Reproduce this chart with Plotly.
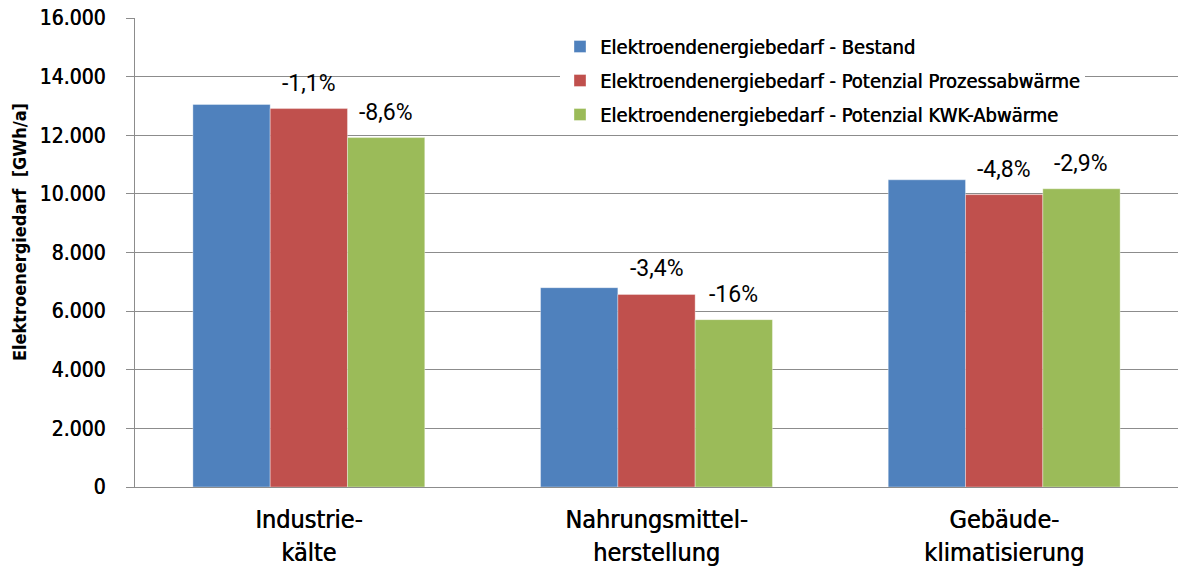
import plotly.graph_objects as go

categories = ["Industrie-<br>kälte", "Nahrungsmittel-<br>herstellung", "Gebäude-<br>klimatisierung"]
series_names = [
    "Elektroendenergiebedarf - Bestand",
    "Elektroendenergiebedarf - Potenzial Prozessabwärme",
    "Elektroendenergiebedarf - Potenzial KWK-Abwärme",
]
bestand = [13050, 6800, 10480]
prozess = [12910, 6570, 9975]
kwk = [11920, 5710, 10175]
prozess_labels = ["-1,1%", "-3,4%", "-4,8%"]
kwk_labels = ["-8,6%", "-16%", "-2,9%"]
tick_vals = [0, 2000, 4000, 6000, 8000, 10000, 12000, 14000, 16000]
tick_text = ["0", "2.000", "4.000", "6.000", "8.000", "10.000", "12.000", "14.000", "16.000"]

colors = ["#4F81BD", "#C0504D", "#9BBB59"]
FONT = "DejaVu Sans Condensed"
SHADOW = "0.5px 0 0 #000000"
W, H = 1178, 570
ML, MR, MT, MB = 135, 0, 18, 83
BARGAP = 0.333

fig = go.Figure()
for i, (name, vals) in enumerate(zip(series_names, [bestand, prozess, kwk])):
    fig.add_trace(go.Bar(
        x=categories, y=vals, name=name,
        marker=dict(color=colors[i], line=dict(color="rgba(255,255,255,0.6)", width=0.6)),
        legendgroup=f"g{i}",
        hoverinfo="skip",
    ))

plot_w = W - ML - MR
plot_h = H - MT - MB
def px_x(page_x):
    return (page_x - ML) / plot_w
def px_y(page_y):
    return (MT + plot_h - page_y) / plot_h

bar_px = plot_w / len(categories) * (1 - BARGAP) / 3
annotations = []
for labels, vals, shift in [(prozess_labels, prozess, 0), (kwk_labels, kwk, bar_px)]:
    for c, v, t in zip(categories, vals, labels):
        annotations.append(dict(
            x=c, y=v, text=t, showarrow=False, xref="x", yref="y",
            xshift=shift, yanchor="bottom", yshift=10,
            font=dict(family="Roboto", size=23, color="#000000"),
        ))
annotations.append(dict(
    x=px_x(20), y=px_y(232), xref="paper", yref="paper",
    text="Elektroenergiedarf  [GWh/a]", textangle=-90, showarrow=False,
    font=dict(family=FONT, size=18, color="#000000", weight="bold"),
    xanchor="center", yanchor="middle",
))

fig.update_layout(
    width=W, height=H,
    margin=dict(l=ML, r=MR, t=MT, b=MB, pad=0),
    paper_bgcolor="white", plot_bgcolor="white",
    barmode="group", bargap=BARGAP, bargroupgap=0,
    font=dict(family=FONT, size=20, color="#000000"),
    showlegend=True,
    legend=dict(
        x=px_x(560), y=px_y(27),
        xanchor="left", yanchor="top",
        bgcolor="white", borderwidth=0,
        font=dict(family=FONT, size=20, color="#000000", shadow=SHADOW),
        traceorder="grouped", tracegroupgap=5,
        itemwidth=30,
    ),
    annotations=annotations,
)
fig.update_yaxes(
    range=[0, 16000], tickvals=tick_vals, ticktext=tick_text,
    showgrid=True, gridcolor="#8C8C8C", gridwidth=1.3,
    showline=True, linecolor="#8C8C8C", linewidth=1.3,
    ticks="outside", ticklen=8, tickcolor="#8C8C8C", tickwidth=1.3,
    ticklabelstandoff=16,
    tickfont=dict(family=FONT, size=21, color="#000000", shadow=SHADOW),
    zeroline=False,
)
fig.update_xaxes(
    showline=True, linecolor="#8C8C8C", linewidth=1.3,
    ticks="", ticklabelstandoff=10,
    tickfont=dict(family=FONT, size=25, color="#000000", shadow=SHADOW),
)

fig.write_html("out.html", config={"displayModeBar": False},
               post_script="document.body.style.margin='0';")
